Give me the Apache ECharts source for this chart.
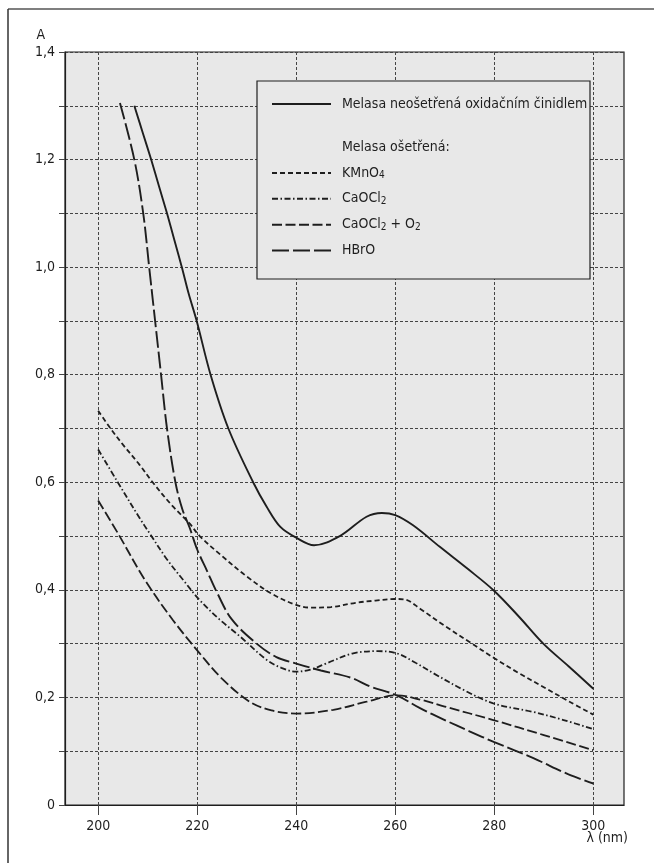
<!DOCTYPE html>
<html>
<head>
<meta charset="utf-8">
<script src="https://cdn.jsdelivr.net/npm/echarts@6/dist/echarts.min.js"></script>
<style>
html,body{margin:0;padding:0;background:#fff;}
#c{width:654px;height:863px;}
</style>
</head>
<body>
<div id="c"></div>
<script>
// ---- data (wavelength nm, absorbance A) ----
const xTicks = [200, 220, 240, 260, 280, 300];
const seriesNames = ['Melasa neošetřená oxidačním činidlem', 'KMnO4', 'CaOCl2', 'CaOCl2 + O2', 'HBrO'];
const headingName = 'Melasa ošetřená:';
const xName = 'λ (nm)';
const yName = 'A';

const untreated = [[207.3,1.30],[209,1.25],[210.7,1.20],[212.3,1.15],[213.9,1.10],[215.4,1.05],[216.9,1.00],[218.3,0.95],[219.9,0.90],[222.7,0.80],[226.3,0.70],[231.3,0.60],[234,0.555],[236.8,0.517],[240,0.497],[243.6,0.483],[248.8,0.50],[254.2,0.536],[257.3,0.543],[260,0.539],[263.6,0.52],[269,0.48],[274.5,0.44],[280,0.398],[285,0.35],[290,0.299],[295,0.258],[300,0.216]];
const kmno4 = [[200,0.733],[202.5,0.70],[205,0.67],[208.4,0.632],[211,0.60],[215,0.556],[218.5,0.523],[220.5,0.50],[225,0.463],[230,0.425],[235,0.393],[240,0.372],[243,0.367],[247,0.368],[252,0.376],[256,0.38],[260,0.383],[262,0.382],[265,0.365],[270,0.333],[275,0.303],[280,0.273],[285,0.245],[290,0.219],[295,0.193],[300,0.168]];
const caocl2 = [[200,0.661],[203.7,0.604],[208.4,0.533],[210.4,0.505],[213.8,0.458],[217.2,0.418],[220.5,0.381],[224.5,0.345],[228.7,0.313],[234,0.27],[237,0.255],[240,0.248],[243,0.252],[246,0.263],[251.5,0.282],[256.5,0.286],[260.3,0.282],[264,0.265],[267.7,0.245],[274,0.213],[279.8,0.189],[287.9,0.173],[294,0.158],[300,0.141]];
const caocl2o2 = [[200,0.566],[204,0.505],[209.4,0.419],[215,0.345],[220.5,0.282],[225,0.235],[230.6,0.192],[235,0.176],[240,0.17],[247.5,0.177],[254.2,0.192],[260.3,0.204],[265,0.196],[270,0.183],[279.8,0.158],[290,0.13],[300,0.102]];
const hbro = [[204.4,1.305],[207.3,1.20],[209.1,1.10],[210.3,1.00],[211.5,0.90],[212.7,0.80],[213.9,0.70],[215.6,0.60],[217,0.55],[218.5,0.515],[220,0.475],[222,0.435],[224,0.395],[227,0.345],[232,0.30],[236,0.275],[240,0.263],[245,0.25],[250.9,0.237],[255,0.22],[260.3,0.204],[265,0.18],[270,0.158],[275,0.137],[280,0.117],[287.9,0.087],[295,0.057],[300,0.04]];

const FONT = '"Liberation Sans Narrow","DejaVu Sans Condensed","Roboto Condensed",sans-serif';
const INK = '#1e1e1e';
const GRID_BG = '#e8e8e8';

const chart = echarts.init(document.getElementById('c'), null, {renderer: 'canvas'});

function line(name, data, type, width) {
  return {
    name: name, type: 'line', data: data, smooth: 0.35, symbol: 'none',
    lineStyle: {color: INK, width: width, type: type, cap: 'butt'},
    itemStyle: {color: INK}, z: 3
  };
}

const sub = {fontSize: 10, fontFamily: FONT, color: INK, verticalAlign: 'bottom', lineHeight: 9};
const legendText = {fontSize: 14, fontFamily: FONT, color: INK, lineHeight: 16, padding: [0, 0, 0, 6], rich: {sub: sub}};

const option = {
  animation: false,
  backgroundColor: '#fff',
  textStyle: {fontFamily: FONT},
  grid: {left: 65, right: 30, top: 52, bottom: 58, show: true, backgroundColor: GRID_BG, borderColor: INK, borderWidth: 1.2, containLabel: false, outerBoundsMode: 'none'},
  xAxis: {
    type: 'value', min: 193.3, max: 306.2,
    axisLine: {show: true, lineStyle: {color: INK, width: 1.2}},
    axisTick: {show: true, customValues: xTicks, length: 10, inside: false, lineStyle: {color: '#444', width: 1}},
    axisLabel: {customValues: xTicks, margin: 14, fontSize: 14, fontFamily: FONT, color: INK},
    splitLine: {show: true, lineStyle: {color: '#444', width: 1, type: [3, 2]}}
  },
  yAxis: {
    type: 'value', min: 0, max: 1.4, interval: 0.1,
    name: yName, nameLocation: 'end', nameGap: 10,
    nameTextStyle: {fontSize: 14, fontFamily: FONT, color: INK, align: 'right', padding: [0, 20, 0, 0]},
    axisLine: {show: true, lineStyle: {color: INK, width: 1.2}},
    axisTick: {show: true, length: 6, inside: false, lineStyle: {color: '#444', width: 1}},
    axisLabel: {
      margin: 10, fontSize: 14, fontFamily: FONT, color: INK,
      formatter: function (v) {
        const k = Math.round(v * 10);
        if (k % 2 !== 0) return '';
        return k === 0 ? '0' : (k / 10).toFixed(1).replace('.', ',');
      }
    },
    splitLine: {show: true, lineStyle: {color: '#444', width: 1, type: [3, 2]}}
  },
  graphic: [
    {type: 'line', shape: {x1: 8, y1: 9, x2: 654, y2: 9}, style: {stroke: '#555', lineWidth: 1.5}, silent: true},
    {type: 'line', shape: {x1: 8, y1: 9, x2: 8, y2: 863}, style: {stroke: '#333', lineWidth: 1.5}, silent: true},
    {type: 'rect', shape: {x: 257, y: 81, width: 333, height: 198}, style: {fill: GRID_BG, stroke: INK, lineWidth: 1.2}, z: 3, silent: true},
    {type: 'text', right: 26, top: 831, style: {text: xName, fontSize: 14, fontFamily: FONT, fill: INK}, silent: true}
  ],
  legend: [
    {
      data: [seriesNames[0]], left: 271, top: 96, orient: 'vertical', padding: 0,
      itemWidth: 59, itemHeight: 14, selectedMode: false, textStyle: legendText, z: 5,
      itemStyle: {opacity: 0}
    },
    {
      data: [{name: headingName, icon: 'none'}, seriesNames[1], seriesNames[2], seriesNames[3], seriesNames[4]],
      left: 271, top: 139, orient: 'vertical', padding: 0, itemGap: 9.9,
      itemWidth: 59, itemHeight: 14, selectedMode: false, textStyle: legendText, z: 5,
      itemStyle: {opacity: 0},
      formatter: function (name) {
        if (name === 'KMnO4') return 'KMnO{sub|4}';
        if (name === 'CaOCl2') return 'CaOCl{sub|2}';
        if (name === 'CaOCl2 + O2') return 'CaOCl{sub|2} + O{sub|2}';
        return name;
      }
    }
  ],
  series: [
    line(seriesNames[0], untreated, 'solid', 1.9),
    {name: headingName, type: 'line', data: [], symbol: 'none', lineStyle: {color: INK, width: 0}},
    line(seriesNames[1], kmno4, [5, 3], 1.8),
    line(seriesNames[2], caocl2, [6, 2.5, 1.5, 2.5], 1.8),
    line(seriesNames[3], caocl2o2, [10, 3.5], 1.8),
    line(seriesNames[4], hbro, [17, 4], 1.9)
  ]
};
chart.setOption(option);
</script>
</body>
</html>
